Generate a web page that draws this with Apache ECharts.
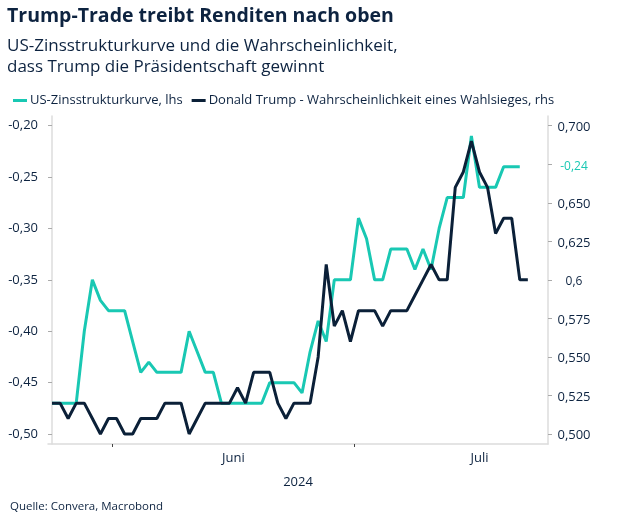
<!DOCTYPE html>
<html>
<head>
<meta charset="utf-8">
<script src="https://cdn.jsdelivr.net/npm/echarts@6/dist/echarts.min.js"></script>
<style>
  html, body { margin: 0; padding: 0; background: #fff; }
  #chart { width: 635px; height: 524px; }
</style>
</head>
<body>
<div id="chart"></div>
<script>
// erster Tag der x-Achse, Anzahl Tage auf der Achse
var startDate = '2024-05-24';
var axisDays = 62;

// Monatsanfänge (Ticks) und Monatsbeschriftungen
var monthStarts = ['2024-06-01', '2024-07-01'];
var monthDays = [30, 31];
var monthLabels = ['Juni', 'Juli'];

// US-Zinsstrukturkurve, lhs (täglich ab startDate)
var yieldCurve = [
    -0.47, -0.47, -0.47, -0.47, -0.40, -0.35, -0.37, -0.38, -0.38, -0.38,
    -0.41, -0.44, -0.43, -0.44, -0.44, -0.44, -0.44, -0.40, -0.42, -0.44,
    -0.44, -0.47, -0.47, -0.47, -0.47, -0.47, -0.47, -0.45, -0.45, -0.45,
    -0.45, -0.46, -0.42, -0.39, -0.41, -0.35, -0.35, -0.35, -0.29, -0.31,
    -0.35, -0.35, -0.32, -0.32, -0.32, -0.34, -0.32, -0.34, -0.30, -0.27,
    -0.27, -0.27, -0.21, -0.26, -0.26, -0.26, -0.24, -0.24, -0.24
];

// Donald Trump - Wahrscheinlichkeit eines Wahlsieges, rhs
var trumpOdds = [
    0.52, 0.52, 0.51, 0.52, 0.52, 0.51, 0.50, 0.51, 0.51, 0.50,
    0.50, 0.51, 0.51, 0.51, 0.52, 0.52, 0.52, 0.50, 0.51, 0.52,
    0.52, 0.52, 0.52, 0.53, 0.52, 0.54, 0.54, 0.54, 0.52, 0.51,
    0.52, 0.52, 0.52, 0.55, 0.61, 0.57, 0.58, 0.56, 0.58, 0.58,
    0.58, 0.57, 0.58, 0.58, 0.58, 0.59, 0.60, 0.61, 0.60, 0.60,
    0.66, 0.67, 0.69, 0.67, 0.66, 0.63, 0.64, 0.64, 0.60, 0.60
];

// Achsenbeschriftungen
var leftTicks = [-0.50, -0.45, -0.40, -0.35, -0.30, -0.25, -0.20];
var rightTicks = [0.500, 0.525, 0.550, 0.575, 0.600, 0.625, 0.650, 0.675, 0.700];
var rightLabels = ['0,500', '0,525', '0,550', '0,575', '0,6', '0,625', '0,650', '', '0,700'];

var navy = '#0d2340';
var teal = '#19c8b3';
var dark = '#0b2038';
var font = 'Open Sans';

function dayIndex(d) {
    var p = d.split('-'), s = startDate.split('-');
    return (Date.UTC(+p[0], p[1] - 1, +p[2]) - Date.UTC(+s[0], s[1] - 1, +s[2])) / 86400000;
}
var tickPos = monthStarts.map(function (d) { return dayIndex(d) - 0.5; });
var labelPos = monthStarts.map(function (d, i) { return dayIndex(d) - 0.5 + monthDays[i] / 2; });

function comma(v, n) { return v.toFixed(n).replace('.', ','); }

var chart = echarts.init(document.getElementById('chart'));

var option = {
    animation: false,
    textStyle: { fontFamily: font },
    title: [{
        text: 'Trump-Trade treibt Renditen nach oben',
        subtext: 'US-Zinsstrukturkurve und die Wahrscheinlichkeit,\ndass Trump die Präsidentschaft gewinnt',
        left: 2,
        top: 1,
        itemGap: 10,
        textStyle: { fontFamily: font, fontSize: 19.5, fontWeight: 'bold', color: navy },
        subtextStyle: { fontFamily: font, fontSize: 17, color: navy, lineHeight: 21 }
    }, {
        text: 'Quelle: Convera, Macrobond',
        left: 5,
        top: 496,
        textStyle: { fontFamily: font, fontSize: 11.5, fontWeight: 'normal', color: navy }
    }],
    legend: {
        left: 8,
        top: 89,
        itemWidth: 14,
        itemHeight: 3,
        itemGap: 9,
        icon: 'rect',
        textStyle: { fontFamily: font, fontSize: 13, color: navy, padding: [0, 0, 0, -2] },
        data: ['US-Zinsstrukturkurve, lhs', 'Donald Trump - Wahrscheinlichkeit eines Wahlsieges, rhs']
    },
    grid: { left: 48, right: 87, top: 116, bottom: 80, containLabel: false },
    xAxis: {
        type: 'value',
        min: -0.5,
        max: axisDays - 0.5,
        name: '2024',
        nameLocation: 'middle',
        nameGap: 32,
        nameTextStyle: { fontFamily: font, fontSize: 13, color: navy },
        axisLine: { show: true, lineStyle: { color: '#dcdcdc', width: 1.5 } },
        axisTick: { show: true, length: 3, customValues: tickPos, lineStyle: { color: '#444' } },
        axisLabel: {
            customValues: labelPos,
            margin: 8,
            fontSize: 13,
            color: navy,
            formatter: function (v) {
                for (var i = 0; i < labelPos.length; i++) {
                    if (Math.abs(labelPos[i] - v) < 0.01) return monthLabels[i];
                }
                return '';
            }
        },
        splitLine: { show: false }
    },
    yAxis: [{
        type: 'value',
        position: 'left',
        min: -0.5097,
        max: -0.1906,
        axisLine: { show: true, lineStyle: { color: '#dcdcdc', width: 1.5 } },
        axisTick: { show: true, length: 4, customValues: leftTicks, lineStyle: { color: '#aaa' } },
        axisLabel: {
            customValues: leftTicks,
            margin: 10,
            fontSize: 13,
            color: navy,
            padding: [3, 0, 0, 0],
            formatter: function (v) { return comma(v, 2); }
        },
        splitLine: { show: false }
    }, {
        type: 'value',
        position: 'right',
        min: 0.4935,
        max: 0.7063,
        axisLine: { show: true, lineStyle: { color: '#dcdcdc', width: 1.5 } },
        axisTick: { show: true, length: 4, customValues: rightTicks, lineStyle: { color: '#aaa' } },
        axisLabel: {
            customValues: rightTicks,
            margin: 26,
            align: 'center',
            fontSize: 13,
            color: navy,
            padding: [3, 0, 0, 0],
            formatter: function (v) {
                for (var i = 0; i < rightTicks.length; i++) {
                    if (Math.abs(rightTicks[i] - v) < 1e-6) {
                        return rightLabels[i] === '0,6' ? '{s|0,6}' : rightLabels[i];
                    }
                }
                return '';
            },
            rich: { s: { fontFamily: font, fontSize: 12, color: navy } }
        },
        splitLine: { show: false }
    }, {
        // letzter Wert der Zinsstrukturkurve am rechten Rand
        type: 'value',
        position: 'right',
        min: -0.5097,
        max: -0.1906,
        axisLine: { show: false },
        axisTick: { show: false },
        axisLabel: {
            customValues: [yieldCurve[yieldCurve.length - 1]],
            margin: 26,
            align: 'center',
            fontSize: 12,
            color: teal,
            padding: [2, 0, 0, 0],
            formatter: function (v) { return comma(v, 2); }
        },
        splitLine: { show: false }
    }],
    series: [{
        name: 'US-Zinsstrukturkurve, lhs',
        type: 'line',
        yAxisIndex: 0,
        showSymbol: false,
        color: teal,
        lineStyle: { width: 3, color: teal },
        data: yieldCurve.map(function (v, i) { return [i, v]; })
    }, {
        name: 'Donald Trump - Wahrscheinlichkeit eines Wahlsieges, rhs',
        type: 'line',
        yAxisIndex: 1,
        showSymbol: false,
        color: dark,
        lineStyle: { width: 3, color: dark },
        data: trumpOdds.map(function (v, i) { return [i, v]; })
    }]
};

chart.setOption(option);
</script>
</body>
</html>
